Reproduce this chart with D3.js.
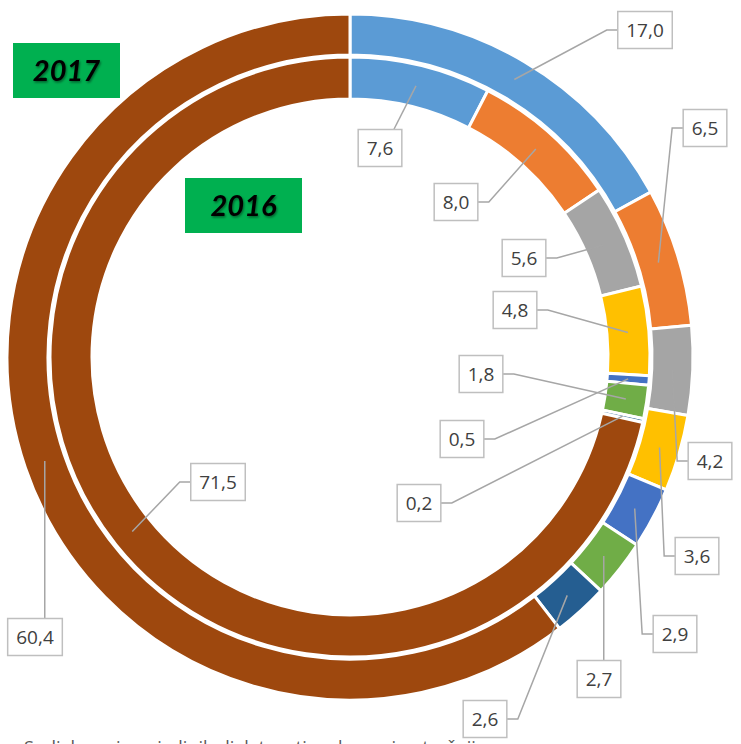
<!DOCTYPE html>
<meta charset="utf-8">
<script src="https://d3js.org/d3.v7.min.js"></script>
<style>
  body { margin: 0; background: #fff; }
  svg { display: block; }
</style>
<div id="chart"></div>
<script>

// categories (segment order, clockwise from the top)
var categories = ["A", "B", "C", "D", "E", "F", "G", "H"];

// series values, % (outer ring = 2017, inner ring = 2016)
var values2017 = [17.0, 6.5, 4.2, 3.6, 2.9, 2.7, 2.6, 60.4];
var values2016 = [7.6, 8.0, 5.6, 4.8, 0.5, 1.8, 0.2, 71.5];

// ring titles
var years = ["2017", "2016"];

var colors = ["#5b9bd5", "#ed7d31", "#a5a5a5", "#ffc000", "#4472c4", "#70ad47", "#255e91", "#9e480e"];

// label box centres and which side the leader line attaches to
var labelPos2017 = [
  [645, 30, "left"], [705, 128, "left"], [710, 461, "left"], [697, 556, "left"],
  [675, 634, "left"], [599, 679, "top"], [485, 719, "right"], [35, 637, "top"]
];
var labelPos2016 = [
  [380, 148, "top"], [456, 202, "right"], [524, 258, "right"], [515, 310, "right"],
  [462, 439, "right"], [481, 374, "right"], [419, 503, "right"], [218, 482, "left"]
];

var width = 741, height = 744;
var cx = 350, cy = 357;

var svg = d3.select("#chart").append("svg")
  .attr("width", width)
  .attr("height", height);

var defs = svg.append("defs");
var f = defs.append("filter").attr("id", "shadow")
  .attr("x", "-20%").attr("y", "-30%").attr("width", "140%").attr("height", "160%");
f.append("feDropShadow").attr("dx", 1).attr("dy", 1.5).attr("stdDeviation", 1.2)
  .attr("flood-color", "#000").attr("flood-opacity", 0.45);

var pie = d3.pie().sort(null).value(function (d) { return d; });

var rings = [
  { values: values2017, inner: 302, outer: 343, labels: labelPos2017 },
  { values: values2016, inner: 258, outer: 300, labels: labelPos2016 }
];

var g = svg.append("g").attr("transform", "translate(" + cx + "," + cy + ")");

rings.forEach(function (ring) {
  var arc = d3.arc().innerRadius(ring.inner).outerRadius(ring.outer);
  ring.arc = arc;
  ring.arcs = pie(ring.values);
  g.append("g").selectAll("path")
    .data(ring.arcs)
    .enter().append("path")
    .attr("d", arc)
    .attr("fill", function (d, i) { return colors[i]; })
    .attr("stroke", "#fff")
    .attr("stroke-width", 3);
});

// data labels with leader lines
var fmt = function (v) { return v.toFixed(1).replace(".", ","); };
var lab = svg.append("g");

rings.forEach(function (ring) {
  ring.arcs.forEach(function (d, i) {
    var p = ring.labels[i];
    var c = ring.arc.centroid(d);
    var ax = c[0] + cx, ay = c[1] + cy;

    var grp = lab.append("g");
    var line = grp.append("path");
    var rect = grp.append("rect");
    var txt = grp.append("text")
      .attr("x", p[0]).attr("y", p[1])
      .attr("text-anchor", "middle")
      .attr("dominant-baseline", "central")
      .style("font-family", "'Open Sans', sans-serif")
      .style("font-size", "19px")
      .attr("fill", "#404040")
      .text(fmt(ring.values[i]));

    var w = txt.node().getBBox().width + 17, h = 37;
    var x0 = p[0] - w / 2, x1 = p[0] + w / 2, y0 = p[1] - h / 2, y1 = p[1] + h / 2;
    rect.attr("x", x0).attr("y", y0).attr("width", w).attr("height", h)
      .attr("fill", "#fff").attr("stroke", "#bfbfbf").attr("stroke-width", 1.5);

    var pts;
    if (p[2] === "left") pts = [[x0, p[1]], [x0 - 11, p[1]], [ax, ay]];
    else if (p[2] === "right") pts = [[x1, p[1]], [x1 + 11, p[1]], [ax, ay]];
    else {
      var tx = Math.max(x0 + 8, Math.min(x1 - 8, ax));
      pts = [[tx, y0], [ax, ay]];
    }
    line.attr("d", d3.line()(pts))
      .attr("fill", "none").attr("stroke", "#a6a6a6").attr("stroke-width", 1.5);
  });
});

// year tags
var tags = [[13, 43, 107, 55], [185, 178, 117, 55]];
years.forEach(function (y, i) {
  var t = tags[i];
  svg.append("rect").attr("x", t[0]).attr("y", t[1]).attr("width", t[2]).attr("height", t[3])
    .attr("fill", "#00b050");
  svg.append("text")
    .attr("x", t[0] + t[2] / 2).attr("y", t[1] + t[3] / 2 + 10)
    .attr("text-anchor", "middle")
    .style("font-family", "Lato, sans-serif")
    .style("font-weight", "bold")
    .style("font-style", "italic")
    .style("font-size", "29px")
    .attr("fill", "#000")
    .attr("filter", "url(#shadow)")
    .text(y);
});

// caption (cut off at the bottom edge, as in the source)
svg.append("text")
  .attr("x", 24).attr("y", 754)
  .style("font-family", "'Open Sans', sans-serif")
  .style("font-size", "18px")
  .attr("fill", "#595959")
  .text("Sudjelovanje pojedinih djelatnosti u ukupnoj potrošnji");

</script>
